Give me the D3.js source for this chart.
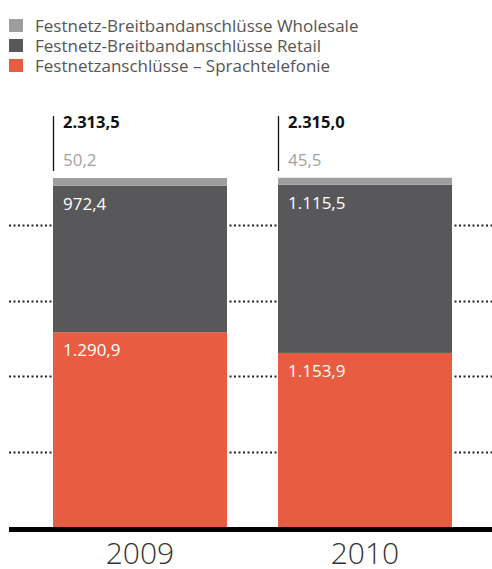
<!DOCTYPE html>
<html>
<head>
    <meta charset="UTF-8">
    <title>Festnetz</title>
    <style>
        body { margin: 0; background: #fff; }
        svg { display: block; font-family: "Open Sans", sans-serif; }
    </style>
</head>
<body>
    <div class="chartBox"></div>

    <script src="https://d3js.org/d3.v7.min.js"></script>
    <script>
        // data
        const years = ["2009", "2010"];
        const sprache = [1290.9, 1153.9];
        const retail = [972.4, 1115.5];
        const wholesale = [50.2, 45.5];
        const totals = ["2.313,5", "2.315,0"];
        const seriesNames = [
            "Festnetz-Breitbandanschlüsse Wholesale",
            "Festnetz-Breitbandanschlüsse Retail",
            "Festnetzanschlüsse – Sprachtelefonie"
        ];
        const gridTicks = [500, 1000, 1500, 2000];

        const colors = { sprache: "#e85c41", retail: "#58585a", wholesale: "#9e9e9f" };

        const width = 492, height = 569;
        const base = 527;

        const svg = d3.select(".chartBox")
            .append("svg")
            .attr("width", width)
            .attr("height", height);

        const x = d3.scaleBand()
            .domain(years)
            .range([53, 452])
            .paddingInner(51 / 225)
            .paddingOuter(0);

        const y = d3.scaleLinear()
            .domain([0, 2313.5])
            .range([base, 178]);

        const fmt = v => v.toLocaleString("de-DE", { minimumFractionDigits: 1, maximumFractionDigits: 1 });

        // dotted grid
        svg.selectAll(".grid")
            .data(gridTicks)
            .enter()
            .append("line")
            .attr("x1", 9)
            .attr("x2", width)
            .attr("y1", d => Math.round(y(d)) + 0.5)
            .attr("y2", d => Math.round(y(d)) + 0.5)
            .attr("stroke", "#222")
            .attr("stroke-width", 2)
            .attr("stroke-dasharray", "2,2.5");

        // stacked data
        const rows = years.map((yr, i) => ({
            year: yr, sprache: sprache[i], retail: retail[i], wholesale: wholesale[i], total: totals[i]
        }));
        const keys = ["sprache", "retail", "wholesale"];
        const stacked = d3.stack().keys(keys)(rows);

        const layers = svg.selectAll(".layer")
            .data(stacked)
            .enter()
            .append("g")
            .attr("fill", d => colors[d.key]);

        layers.selectAll("rect")
            .data(d => d)
            .enter()
            .append("rect")
            .attr("x", d => x(d.data.year))
            .attr("y", d => y(d[1]))
            .attr("width", x.bandwidth())
            .attr("height", d => y(d[0]) - y(d[1]));

        // labels inside bars
        stacked.filter(s => s.key !== "wholesale").forEach(s => {
            svg.selectAll(".lbl-" + s.key)
                .data(s)
                .enter()
                .append("text")
                .attr("x", d => x(d.data.year) + 10)
                .attr("y", d => y(d[1]) + 24)
                .attr("fill", "#fff")
                .attr("font-size", 17)
                .text(d => fmt(d[1] - d[0]));
        });

        // total marker and top labels
        rows.forEach(r => {
            const bx = x(r.year);
            svg.append("line")
                .attr("x1", bx + 0.5).attr("x2", bx + 0.5)
                .attr("y1", 116).attr("y2", 171)
                .attr("stroke", "#111").attr("stroke-width", 1.3);
            svg.append("text")
                .attr("x", bx + 10).attr("y", 128)
                .attr("font-size", 16.5).attr("font-weight", "bold")
                .attr("fill", "#111")
                .text(r.total);
            svg.append("text")
                .attr("x", bx + 10).attr("y", 166)
                .attr("font-size", 17)
                .attr("fill", "#a3a3a3")
                .text(fmt(r.wholesale));
        });

        // baseline
        svg.append("rect")
            .attr("x", 9).attr("y", base)
            .attr("width", width - 9).attr("height", 5)
            .attr("fill", "#000");

        // x-axis labels
        svg.selectAll(".xl")
            .data(years)
            .enter()
            .append("text")
            .attr("x", d => x(d) + x.bandwidth() / 2)
            .attr("y", 564)
            .attr("text-anchor", "middle")
            .attr("font-size", 30)
            .attr("font-weight", 300)
            .attr("fill", "#333")
            .text(d => d);

        // legend
        const legendColors = [colors.wholesale, colors.retail, colors.sprache];
        const legend = svg.selectAll(".legend")
            .data(seriesNames)
            .enter()
            .append("g")
            .attr("transform", (d, i) => `translate(9, ${19 + i * 20})`);
        legend.append("rect")
            .attr("width", 14).attr("height", 13)
            .attr("fill", (d, i) => legendColors[i]);
        legend.append("text")
            .attr("x", 26).attr("y", 12.5)
            .attr("font-size", 17)
            .attr("fill", "#555")
            .text(d => d);
    </script>
</body>
</html>
